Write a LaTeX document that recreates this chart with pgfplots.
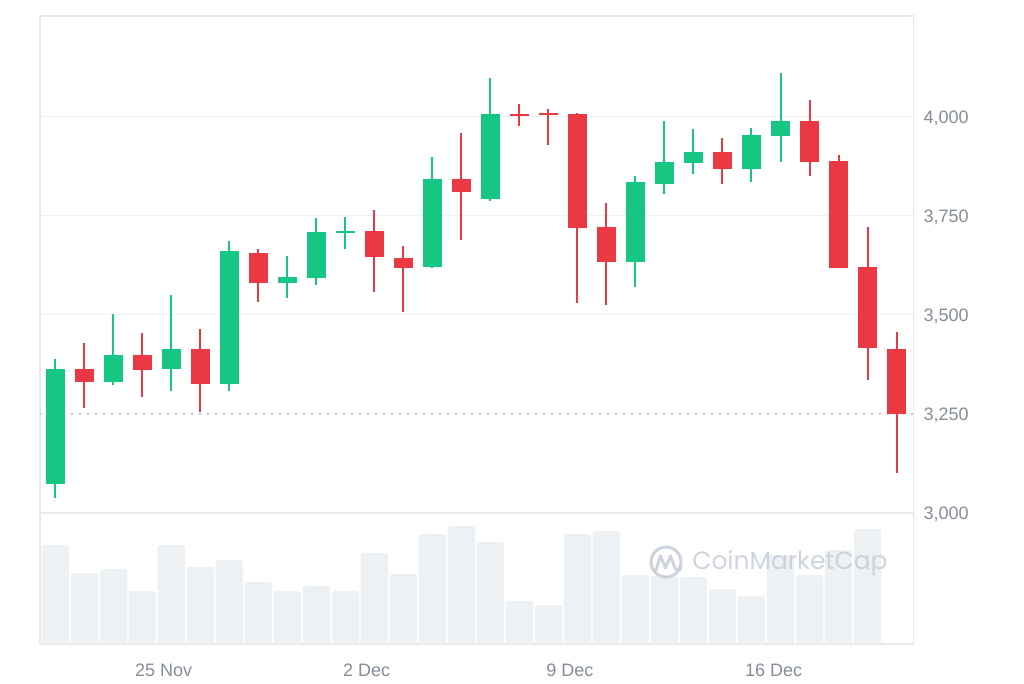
\documentclass[border=0pt]{standalone}
\usepackage{fontspec}
\setmainfont{Liberation Sans}
\newfontfamily\wmfont{Poppins}
\usepackage{pgfplots}
\usepackage{pgfplotstable}
\pgfplotsset{compat=1.18}

\definecolor{upgreen}{HTML}{16C784}
\definecolor{downred}{HTML}{EA3943}
\definecolor{volgray}{HTML}{EEF1F4}
\definecolor{gridgray}{HTML}{EFF1F4}
\definecolor{framegray}{HTML}{E6E9EC}
\definecolor{labelgray}{HTML}{858C99}
\definecolor{dotgray}{HTML}{A3A9B3}
\definecolor{wmgray}{HTML}{C6CDD8}

% day open high low close
\pgfplotstableread{
x open high low close
0  3072 3388 3037 3363
2  3330 3502 3322 3398
4  3364 3550 3308 3415
6  3326 3687 3308 3661
8  3580 3648 3542 3596
9  3594 3744 3575 3708
10 3706 3747 3666 3712
13 3620 3898 3617 3843
15 3792 4097 3787 4006
20 3633 3850 3571 3834
21 3830 3989 3804 3885
22 3882 3968 3856 3911
24 3869 3971 3835 3954
25 3951 4110 3886 3989
}\upcandles

\pgfplotstableread{
x open high low close
1  3363 3428 3265 3330
3  3398 3454 3292 3360
5  3415 3464 3256 3326
7  3657 3665 3532 3580
11 3712 3765 3558 3645
12 3644 3674 3507 3619
14 3843 3958 3688 3809
16 4007 4032 3977 4002
17 4010 4019 3929 4003
18 4006 4010 3529 3718
19 3721 3781 3525 3633
23 3911 3946 3830 3869
26 3989 4041 3851 3886
27 3889 3903 3617 3619
28 3621 3721 3335 3417
29 3414 3457 3102 3250
}\downcandles

% relative volume
\pgfplotstableread{
x vol
0 99
1 71
2 75
3 53
4 99
5 77
6 84
7 62
8 53
9 58
10 53
11 91
12 70
13 110
14 118
15 102
16 43
17 39
18 110
19 113
20 69
21 68
22 67
23 55
24 48
25 89
26 69
27 94
28 115
}\volume

\pgfplotsset{
  wick/.style={only marks, mark=none, mark size=0pt, mark options={opacity=0},
    error bars/.cd, y dir=both, y explicit, error mark=none,
    error bar style={#1, line width=1.5pt, line cap=butt}},
  body/.style={only marks, mark=none, mark size=0pt, mark options={opacity=0},
    error bars/.cd, y dir=both, y explicit, error mark=none,
    error bar style={#1, line width=14pt, line cap=butt}},
}

\begin{document}
\begin{tikzpicture}
\path[use as bounding box] (0pt,0pt) rectangle (768pt,512.25pt);

\begin{axis}[
  at={(30pt,127.5pt)}, anchor=south west, scale only axis,
  width=655pt, height=372.75pt,
  xmin=-0.53, xmax=29.58, ymin=3000, ymax=4254,
  axis line style={framegray, line width=0.8pt},
  xtick=\empty,
  ytick={3000,3250,3500,3750,4000},
  yticklabels={{3,000},{3,250},{3,500},{3,750},{4,000}},
  yticklabel pos=right,
  major tick length=0pt,
  ymajorgrids, grid style={gridgray, line width=0.8pt},
  yticklabel style={anchor=base west, inner sep=0pt, xshift=7.5pt, yshift=-4.8pt,
    font=\fontsize{13.5}{16}\selectfont, text=labelgray},
]
\addplot[dotgray, line width=1.6pt, line cap=round, dash pattern=on 0pt off 6pt]
  coordinates {(-0.53,3250) (29.58,3250)};

\addplot[wick=upgreen] table[x=x, y expr={(\thisrow{high}+\thisrow{low})/2},
  y error expr={(\thisrow{high}-\thisrow{low})/2}] {\upcandles};
\addplot[body=upgreen] table[x=x, y expr={(\thisrow{open}+\thisrow{close})/2},
  y error expr={abs(\thisrow{close}-\thisrow{open})/2}] {\upcandles};
\addplot[wick=downred] table[x=x, y expr={(\thisrow{high}+\thisrow{low})/2},
  y error expr={(\thisrow{high}-\thisrow{low})/2}] {\downcandles};
\addplot[body=downred] table[x=x, y expr={(\thisrow{open}+\thisrow{close})/2},
  y error expr={abs(\thisrow{close}-\thisrow{open})/2}] {\downcandles};
\end{axis}

\begin{axis}[
  at={(30pt,29.25pt)}, anchor=south west, scale only axis,
  width=655pt, height=98.25pt,
  xmin=-0.53, xmax=29.58, ymin=0, ymax=131,
  axis line style={framegray, line width=0.8pt},
  ytick=\empty,
  xtick={3.73,10.73,17.74,24.76},
  xticklabels={25 Nov, 2 Dec, 9 Dec, 16 Dec},
  major tick length=0pt,
  xticklabel style={anchor=north, inner sep=0pt, yshift=-15pt,
    font=\fontsize{13.5}{16}\selectfont, text=labelgray},
]
\addplot[ybar, bar width=20.6pt, fill=volgray, draw=none, rounded corners=2pt]
  table[x=x, y=vol] {\volume};
\end{axis}

% watermark
\begin{scope}[x=0.75pt, y=0.75pt, opacity=0.85]
\draw[wmgray, line width=2.3pt] (666,121) circle[radius=11.25pt];
\draw[wmgray, line width=2.2pt, line join=round, line cap=round]
  (656,113) -- (660.5,127) -- (665.5,115) -- (670.5,127) -- (674.5,116)
  .. controls (676,112) and (679,112) .. (681,115);
\node[anchor=base west, inner sep=0pt, text=wmgray,
  font=\wmfont\fontsize{18.7}{21}\selectfont] at (692,114) {CoinMarketCap};
\end{scope}
\end{tikzpicture}
\end{document}
